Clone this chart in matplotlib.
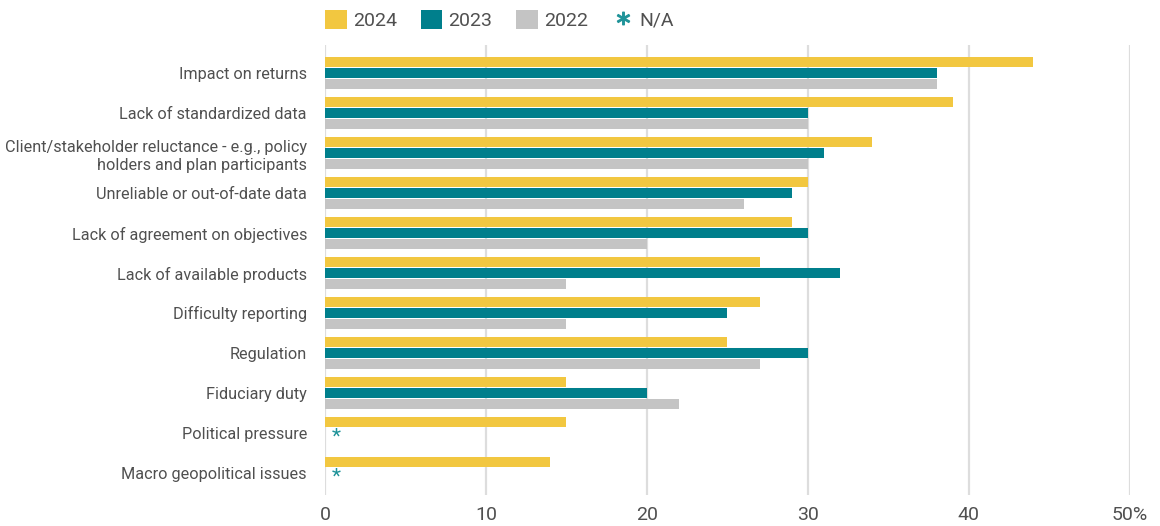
import numpy as np
import matplotlib.pyplot as plt
from matplotlib.patches import Patch
from matplotlib.lines import Line2D

# Data (percent of respondents)
categories = [
    "Impact on returns",
    "Lack of standardized data",
    "Client/stakeholder reluctance - e.g., policy\nholders and plan participants",
    "Unreliable or out-of-date data",
    "Lack of agreement on objectives",
    "Lack of available products",
    "Difficulty reporting",
    "Regulation",
    "Fiduciary duty",
    "Political pressure",
    "Macro geopolitical issues",
]
vals_2024 = [44, 39, 34, 30, 29, 27, 27, 25, 15, 15, 14]
vals_2023 = [38, 30, 31, 29, 30, 32, 25, 30, 20, None, None]
vals_2022 = [38, 30, 30, 26, 20, 15, 15, 27, 22, None, None]
series_names = ["2024", "2023", "2022"]
x_ticks = [0, 10, 20, 30, 40, 50]
x_tick_labels = ["0", "10", "20", "30", "40", "50%"]

YELLOW = "#F2C740"
TEAL = "#007F8C"
GRAY = "#C4C4C4"
TEXT = "#505050"
colors = [YELLOW, TEAL, GRAY]

plt.rcParams["font.family"] = ["Roboto", "DejaVu Sans"]

fig = plt.figure(figsize=(11.6, 5.26), dpi=100)
ax = fig.add_axes([0.2802, 0.059, 0.974 - 0.2802, 0.9144 - 0.059])

y = np.arange(len(categories))
bar_h = 0.26
offset = 0.275

for k, (vals, col) in enumerate(zip([vals_2024, vals_2023, vals_2022], colors)):
    for i, v in enumerate(vals):
        if v is None:
            continue
        ax.barh(y[i] + (k - 1) * offset, v, height=bar_h, color=col, zorder=3)

# N/A markers for missing 2023 values
for i, v in enumerate(vals_2023):
    if v is None:
        ax.text(0.7, y[i] + 0.1, "*", color="#1F9399", fontsize=15,
                ha="center", va="center", zorder=4)

ax.set_xlim(0, 50)
ax.set_ylim(10.55, -0.7)
ax.set_xticks(x_ticks)
ax.set_xticklabels(x_tick_labels, fontsize=14, color=TEXT)
ax.set_yticks(y)
ax.set_yticklabels(categories, fontsize=11.7, color=TEXT, linespacing=1.3)
ax.tick_params(axis="both", length=0)
ax.tick_params(axis="x", pad=8)
ax.tick_params(axis="y", pad=13)
ax.grid(axis="x", color="#DDDDDD", linewidth=1.6, zorder=0)
ax.set_axisbelow(True)
for s in ax.spines.values():
    s.set_visible(False)

handles = [Patch(facecolor=c, edgecolor="none") for c in colors]
handles.append(Line2D([], [], linestyle="none", marker="$*$", markersize=9,
                      color="#1F9399"))
fig.legend(handles, series_names + ["N/A"], loc="center left",
           bbox_to_anchor=(0.2655, 0.962), ncol=4, frameon=False,
           prop={"size": 14}, labelcolor=TEXT,
           handlelength=1.1, handleheight=1.1,
           handletextpad=0.3, columnspacing=1.25)

fig.savefig("out.png", dpi=100)
